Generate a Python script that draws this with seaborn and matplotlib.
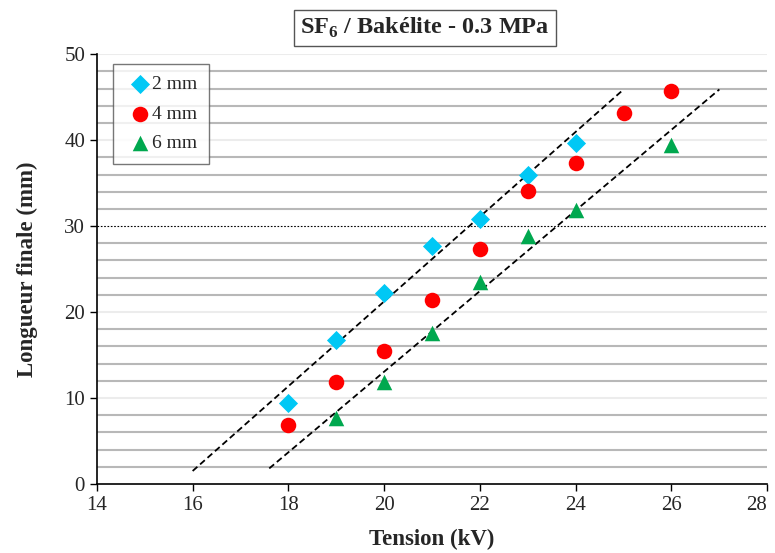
import numpy as np
import matplotlib
matplotlib.use('Agg')
import matplotlib.pyplot as plt
import seaborn as sns
import pandas as pd

# data
tension_2mm = [18, 19, 20, 21, 22, 23, 24]
longueur_2mm = [9.4, 16.7, 22.2, 27.7, 30.8, 36.0, 39.7]
tension_4mm = [18, 19, 20, 21, 22, 23, 24, 25, 26]
longueur_4mm = [6.9, 11.9, 15.5, 21.4, 27.3, 34.1, 37.3, 43.1, 45.7]
tension_6mm = [19, 20, 21, 22, 23, 24, 26]
longueur_6mm = [7.7, 11.8, 17.6, 23.5, 28.9, 31.9, 39.4]

# dashed guide lines (end points)
guide1_x = [16.0, 25.0]
guide1_y = [1.5, 45.9]
guide2_x = [17.6, 27.0]
guide2_y = [1.8, 45.9]

labels = ['2 mm', '4 mm', '6 mm']
x_ticks = [14, 16, 18, 20, 22, 24, 26, 28]
y_ticks = [0, 10, 20, 30, 40, 50]


def main():
    sns.set_style('white')
    plt.rcParams['font.family'] = ['Liberation Serif', 'DejaVu Serif']

    df = pd.DataFrame({
        'tension': tension_2mm + tension_4mm + tension_6mm,
        'longueur': longueur_2mm + longueur_4mm + longueur_6mm,
        'gap': [labels[0]] * len(tension_2mm) + [labels[1]] * len(tension_4mm) + [labels[2]] * len(tension_6mm),
    })
    palette = {'2 mm': '#00c8f5', '4 mm': '#ff0000', '6 mm': '#00a84f'}
    markers = {'2 mm': 'D', '4 mm': 'o', '6 mm': '^'}
    sizes = {'2 mm': 95, '4 mm': 125, '6 mm': 125}

    fig, ax = plt.subplots(figsize=(7.75, 5.53), dpi=100)
    fig.subplots_adjust(left=0.125, right=0.99, top=0.902, bottom=0.125)

    # horizontal grid: grey every 2, pale at tens, dotted at 30
    for yv in range(2, 51, 2):
        if yv == 30:
            ax.axhline(yv, color='black', lw=0.8, ls=(0, (1.5, 1.5)), zorder=1)
        elif yv % 10 == 0:
            ax.axhline(yv, color='#ececec', lw=1.5, zorder=1)
        else:
            ax.axhline(yv, color='#b8b8b8', lw=1.5, zorder=1)

    ax.plot(guide1_x, guide1_y, color='black', ls=(0, (3.5, 2)), lw=1.3, zorder=2)
    ax.plot(guide2_x, guide2_y, color='black', ls=(0, (3.5, 2)), lw=1.3, zorder=2)

    for lab in labels:
        sub = df[df['gap'] == lab]
        sns.scatterplot(data=sub, x='tension', y='longueur', color=palette[lab], marker=markers[lab],
                        s=sizes[lab], linewidth=0, ax=ax, label=lab, zorder=3)

    ax.set_xlim(14, 28)
    ax.set_ylim(0, 50)
    ax.set_xticks(x_ticks)
    ax.set_yticks(y_ticks)
    ax.tick_params(axis='both', labelsize=15, direction='out', length=5, width=1, color='black',
                   bottom=True, left=True)
    ax.set_xticklabels([str(t) for t in x_ticks])
    ax.get_xticklabels()[-1].set_ha('right')
    for side in ['top', 'right']:
        ax.spines[side].set_visible(False)
    for side in ['left', 'bottom']:
        ax.spines[side].set_color('black')
        ax.spines[side].set_linewidth(1.2)

    ax.set_xlabel('Tension (kV)', fontsize=16.5, fontweight='bold', labelpad=10)
    ax.set_ylabel('Longueur finale (mm)', fontsize=16.5, fontweight='bold', labelpad=19)

    leg = ax.legend(loc='upper left', bbox_to_anchor=(0.024, 0.977), fontsize=14, frameon=True,
                    fancybox=False, edgecolor='#555555', handletextpad=-0.2, labelspacing=0.6,
                    borderpad=0.6, handlelength=1.6, borderaxespad=0)
    leg.get_frame().set_linewidth(1.0)

    fig.text(0.548, 0.949, r'SF$_\mathregular{6}$ / Bakélite - 0.3 MPa', ha='center', va='center',
             fontsize=17.5, fontweight='bold',
             bbox=dict(boxstyle='square,pad=0.25', facecolor='white', edgecolor='#555555', linewidth=1.0))

    fig.savefig('out.png', dpi=100)
    print('donzo')


if __name__ == '__main__':
    main()
